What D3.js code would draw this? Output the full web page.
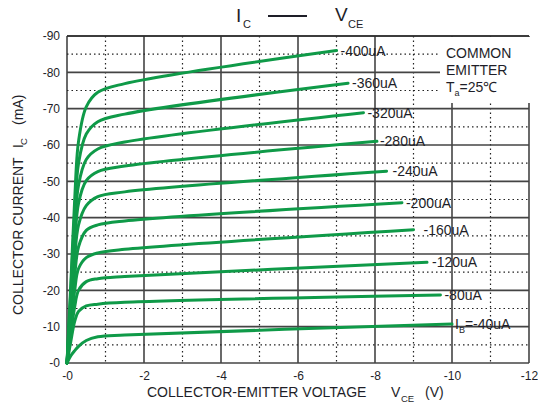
<!DOCTYPE html>
<html>
<head>
<meta charset="utf-8">
<script src="https://cdn.jsdelivr.net/npm/d3@7"></script>
<style>
  body { margin: 0; background: #fff; }
  svg { display: block; font-family: "Liberation Sans", Arial, sans-serif; }
</style>
</head>
<body>
<div id="chart"></div>
<script>
/* chart values */
const baseLabels = ["-40uA", "-80uA", "-120uA", "-160uA", "-200uA", "-240uA", "-280uA", "-320uA", "-360uA", "-400uA"];
const kneeV = [0, -0.1, -0.2, -0.3, -0.5, -0.8, -1.5];
const endV = [-10.0, -9.7, -9.35, -9.0, -8.7, -8.3, -8.05, -7.7, -7.3, -7.0];
// collector current (mA) at each kneeV point, then at endV
const curveI = [
  [0, -2.0, -3.4, -4.6, -6.2, -7.2, -7.7, -10.7],
  [0, -6, -11.5, -14.2, -15.7, -16.2, -16.7, -18.7],
  [0, -8, -15.5, -20, -22.4, -23.2, -23.8, -27.7],
  [0, -10, -20, -26, -29, -30.3, -31.3, -36.7],
  [0, -12, -24, -32, -36.5, -38, -39.1, -44.1],
  [0, -14, -29, -38, -43.3, -45.8, -47.1, -52.8],
  [0, -16, -33, -44, -50.2, -52.7, -54.2, -61.0],
  [0, -18, -37, -49, -56, -58.9, -60.8, -68.9],
  [0, -20, -41, -55, -63, -66.4, -68.5, -77.0],
  [0, -22, -45, -61, -70.5, -74.5, -76.9, -86.0]
];
const xTicks = [0, -2, -4, -6, -8, -10, -12];
const xMinor = [-1, -3, -5, -7, -9, -11];
const yTicks = [0, -10, -20, -30, -40, -50, -60, -70, -80, -90];
const yMinor = [-5, -15, -25, -35, -45, -55, -65, -75, -85];

/* layout */
let width = 538, height = 406;
let plot = {left: 67, right: 529, top: 36, bottom: 363};
let labelDx = [3, 4, 5, 10, 4, 6, 3, 4, 4, 4];
let green = "#0f9a48";
let ink = "#1e1e28";

let svg = d3.select("#chart").append("svg")
  .attr("width", width)
  .attr("height", height);

svg.append("rect").attr("width", width).attr("height", height).attr("fill", "#fff");

let x = d3.scaleLinear().domain([0, -12]).range([plot.left, plot.right]);
let y = d3.scaleLinear().domain([0, -90]).range([plot.bottom, plot.top]);

let grid = svg.append("g");

// dotted minor grid
grid.selectAll(".vminor").data(xMinor).join("line")
  .attr("x1", d => x(d)).attr("x2", d => x(d))
  .attr("y1", plot.top).attr("y2", plot.bottom)
  .attr("stroke", "#222").attr("stroke-width", 1.2)
  .attr("stroke-dasharray", "1.5,3");
grid.selectAll(".hminor").data(yMinor).join("line")
  .attr("y1", d => y(d)).attr("y2", d => y(d))
  .attr("x1", plot.left).attr("x2", plot.right)
  .attr("stroke", "#222").attr("stroke-width", 1.2)
  .attr("stroke-dasharray", "1.5,3");

// solid major grid
grid.selectAll(".vmajor").data(xTicks).join("line")
  .attr("x1", d => x(d)).attr("x2", d => x(d))
  .attr("y1", plot.top).attr("y2", plot.bottom)
  .attr("stroke", "#2a2a2a").attr("stroke-width", 1.4);
grid.selectAll(".hmajor").data(yTicks).join("line")
  .attr("y1", d => y(d)).attr("y2", d => y(d))
  .attr("x1", plot.left).attr("x2", plot.right)
  .attr("stroke", "#444").attr("stroke-width", 1.6);

// white box behind the condition note
svg.append("rect")
  .attr("x", 440).attr("y", plot.top + 1)
  .attr("width", 91).attr("height", 66)
  .attr("fill", "#fff");

svg.append("line")
  .attr("x1", plot.left).attr("x2", plot.right)
  .attr("y1", plot.top).attr("y2", plot.top)
  .attr("stroke", "#2a2a2a").attr("stroke-width", 1.4);

// axes: labels only, no tick marks
let xAxis = svg.append("g")
  .attr("transform", `translate(0, ${plot.bottom + 3})`)
  .call(d3.axisBottom(x).tickValues(xTicks).tickSize(0).tickFormat(d => "-" + Math.abs(d)));
let yAxis = svg.append("g")
  .attr("transform", `translate(${plot.left - 4}, 0)`)
  .call(d3.axisLeft(y).tickValues(yTicks).tickSize(0).tickFormat(d => "-" + Math.abs(d)));
[xAxis, yAxis].forEach(a => {
  a.select(".domain").remove();
  a.selectAll("text").attr("font-size", 12).attr("fill", ink)
    .attr("font-family", "Liberation Sans, Arial, sans-serif");
});
xAxis.selectAll("text").attr("dy", "0.9em");

// curves
let line = d3.line()
  .x(d => x(d[0]))
  .y(d => y(d[1]))
  .curve(d3.curveCatmullRom.alpha(0.5));

let curves = curveI.map((vals, i) =>
  kneeV.concat([endV[i]]).map((v, j) => [v, vals[j]]));

svg.append("g").selectAll("path").data(curves).join("path")
  .attr("d", line)
  .attr("fill", "none")
  .attr("stroke", green)
  .attr("stroke-width", 3)
  .attr("stroke-linecap", "round");

// curve labels
let labels = svg.append("g").attr("font-size", 14).attr("fill", ink);
baseLabels.forEach((lab, i) => {
  let ex = x(endV[i]) + labelDx[i];
  let ey = y(curveI[i][curveI[i].length - 1]) + 5;
  let t = labels.append("text").attr("x", ex).attr("y", ey);
  if (i === 0) {
    t.append("tspan").text("I");
    t.append("tspan").attr("font-size", 9).attr("dy", 4).text("B");
    t.append("tspan").attr("dy", -4).text("=" + lab);
  } else {
    t.text(lab);
  }
});

// condition note
let note = svg.append("g").attr("font-size", 14).attr("fill", ink);
note.append("text").attr("x", 446).attr("y", 58).text("COMMON");
note.append("text").attr("x", 446).attr("y", 75).text("EMITTER");
let ta = note.append("text").attr("x", 446).attr("y", 92);
ta.append("tspan").text("T");
ta.append("tspan").attr("font-size", 9).attr("dy", 4).text("a");
ta.append("tspan").attr("dy", -4).text("=25℃");

// title
let title = svg.append("g").attr("fill", ink);
title.append("text").attr("x", 236).attr("y", 22).attr("font-size", 19).text("I");
title.append("text").attr("x", 243).attr("y", 28).attr("font-size", 11).text("C");
title.append("line").attr("x1", 268).attr("x2", 307).attr("y1", 16).attr("y2", 16)
  .attr("stroke", ink).attr("stroke-width", 2);
title.append("text").attr("x", 335).attr("y", 21).attr("font-size", 19).text("V");
title.append("text").attr("x", 348).attr("y", 28).attr("font-size", 11).text("CE");

// x axis title
let xt = svg.append("g").attr("fill", ink).attr("font-size", 14);
xt.append("text").attr("x", 147).attr("y", 397).text("COLLECTOR-EMITTER VOLTAGE");
xt.append("text").attr("x", 391).attr("y", 397).text("V");
xt.append("text").attr("x", 401).attr("y", 402).attr("font-size", 9.5).text("CE");
xt.append("text").attr("x", 425).attr("y", 397).text("(V)");

// y axis title
let yt = svg.append("g").attr("fill", ink).attr("font-size", 14)
  .attr("transform", "translate(23, 0) rotate(-90)");
yt.append("text").attr("x", -315).attr("y", 0).text("COLLECTOR CURRENT");
yt.append("text").attr("x", -148).attr("y", 0).text("I");
yt.append("text").attr("x", -145).attr("y", 4).attr("font-size", 9.5).text("C");
yt.append("text").attr("x", -125).attr("y", 0).text("(mA)");
</script>
</body>
</html>
